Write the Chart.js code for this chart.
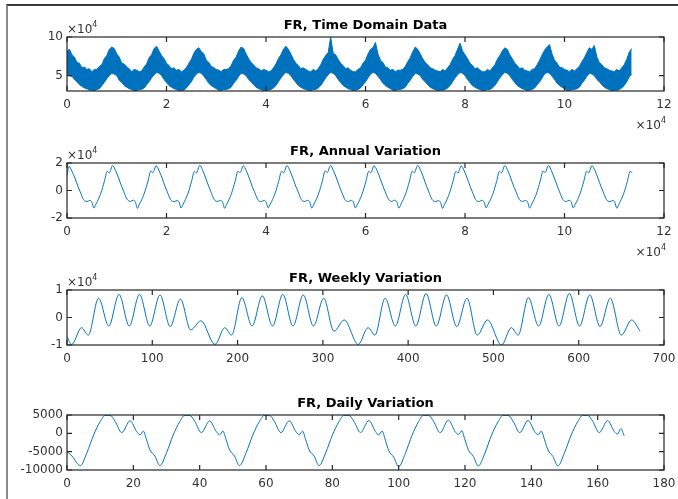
<!DOCTYPE html>
<html>
<head>
<meta charset="utf-8">
<script src="https://cdn.jsdelivr.net/npm/chart.js@4.4.0/dist/chart.umd.min.js"></script>
<style>
  body { margin: 0; background: #fff; }
  #fig { position: relative; width: 678px; height: 499px; overflow: hidden; background: #fff; }
  #fig canvas { position: absolute; left: 0; top: 0; }
  #frame { position: absolute; left: 6px; top: 4px; right: -2px; bottom: -2px; border-left: 2px solid #8a8a8a; border-top: 2px solid #3a3a3a; }
</style>
</head>
<body>
<div id="fig">
  <div id="frame"></div>
  <canvas id="td" width="678" height="499"></canvas>
  <canvas id="annual" width="678" height="499"></canvas>
  <canvas id="weekly" width="678" height="499"></canvas>
  <canvas id="daily" width="678" height="499"></canvas>
</div>
<script>
// raw hourly load, drawn as a band between upper and lower envelope
// one sample every 500 h, values in thousands
const tdUpperK = [
  82,84,77,74,67,66,60,61,58,59,55,58,58,62,64,72,76,84,87,85,
  78,74,66,65,61,59,55,58,57,55,56,61,65,73,77,85,88,82,76,72,
  66,63,59,60,57,58,55,57,60,66,71,79,84,86,81,78,70,67,62,60,
  58,57,55,58,58,59,63,70,74,82,87,85,78,72,67,64,60,59,56,58,
  57,55,56,60,65,72,77,84,88,84,78,71,66,63,59,60,58,56,55,58,
  56,59,64,71,76,80,100,79,77,71,66,63,59,60,57,55,55,58,60,66,
  70,78,84,86,93,78,70,67,61,60,57,58,55,57,57,58,62,68,73,81,
  87,84,78,72,67,64,60,59,57,56,55,58,56,60,64,71,76,84,92,82,
  77,72,66,63,59,60,57,55,55,58,56,60,64,71,76,82,86,84,77,72,
  66,63,59,60,57,56,55,58,59,64,70,77,83,87,90,78,70,66,61,60,
  58,57,55,58,56,59,62,68,73,80,86,84,89,74,67,64,60,59,57,56,
  55,58,56,60,64,71,80,85];
const tdLowerK = [
  52,50,49,45,42,38,36,34,33,31,31,30,32,33,37,41,46,50,53,52,
  50,44,41,37,35,33,32,30,30,32,32,34,38,42,47,51,54,53,50,45,
  41,37,35,33,32,30,31,31,34,38,42,48,52,54,53,49,45,40,37,35,
  33,31,30,32,32,33,35,40,44,49,53,52,50,45,42,38,35,33,32,30,
  31,31,32,34,37,42,47,51,54,53,50,45,41,37,35,33,32,31,30,32,
  32,34,37,42,47,51,54,53,50,45,41,37,35,33,32,30,31,32,34,38,
  42,47,52,54,53,49,45,40,37,35,33,31,30,32,32,33,35,40,44,49,
  53,52,50,45,42,38,35,33,32,30,31,31,32,34,37,42,47,51,54,53,
  50,45,41,37,35,33,32,30,30,32,32,34,37,42,47,51,54,53,50,45,
  41,37,35,33,32,30,31,32,34,38,42,47,52,54,53,49,45,40,37,35,
  33,31,30,32,32,33,35,40,44,49,53,52,50,45,42,38,35,33,32,30,
  31,31,32,34,37,42,48,52];
const tdHours = tdUpperK.map((_, i) => i * 500);
const tdUpper = tdUpperK.map((v) => v * 1000);
const tdLower = tdLowerK.map((v) => v * 1000);

// annual component
const annualHours = [0,
  400,1000,1600,2200,2600,3300,4000,4600,5000,5400,5800,6100,6800,7500,8100,8500,
  9160,9760,10360,10960,11360,12060,12760,13360,13760,14160,14560,14860,15560,16260,16860,17260,
  17920,18520,19120,19720,20120,20820,21520,22120,22520,22920,23320,23620,24320,25020,25620,26020,
  26680,27280,27880,28480,28880,29580,30280,30880,31280,31680,32080,32380,33080,33780,34380,34780,
  35440,36040,36640,37240,37640,38340,39040,39640,40040,40440,40840,41140,41840,42540,43140,43540,
  44200,44800,45400,46000,46400,47100,47800,48400,48800,49200,49600,49900,50600,51300,51900,52300,
  52960,53560,54160,54760,55160,55860,56560,57160,57560,57960,58360,58660,59360,60060,60660,61060,
  61720,62320,62920,63520,63920,64620,65320,65920,66320,66720,67120,67420,68120,68820,69420,69820,
  70480,71080,71680,72280,72680,73380,74080,74680,75080,75480,75880,76180,76880,77580,78180,78580,
  79240,79840,80440,81040,81440,82140,82840,83440,83840,84240,84640,84940,85640,86340,86940,87340,
  88000,88600,89200,89800,90200,90900,91600,92200,92600,93000,93400,93700,94400,95100,95700,96100,
  96760,97360,97960,98560,98960,99660,100360,100960,101360,101760,102160,102460,103160,103860,104460,104860,
  105520,106120,106720,107320,107720,108420,109120,109720,110120,110520,110920,111220,111920,112620,113220,113600];
const annualValues = [11000,
  17600,14000,9000,3000,-500,-6500,-8000,-7200,-8500,-12800,-10000,-8000,-2000,6500,14000,12800,
  18200,14500,9200,3200,-400,-6300,-7900,-7000,-8600,-13000,-9800,-7900,-1800,6600,14200,13000,
  18000,14300,9000,2800,-600,-6600,-8100,-7300,-8400,-12700,-10100,-8000,-2100,6400,13900,12700,
  18300,14600,9100,3100,-500,-6400,-8000,-7100,-8500,-12900,-10000,-8100,-2000,6500,14100,12900,
  17900,14400,8900,2900,-500,-6500,-8100,-7200,-8600,-12600,-9900,-7900,-1900,6600,14000,12800,
  18100,14500,9000,3000,-400,-6500,-8000,-7100,-8500,-12800,-10000,-8000,-2000,6500,14200,13000,
  18200,14400,9100,3000,-600,-6600,-8000,-7200,-8400,-12700,-10100,-8100,-2100,6400,14000,12800,
  18000,14500,9000,3100,-500,-6400,-7900,-7000,-8500,-12900,-9900,-7900,-1900,6600,14100,12900,
  18300,14600,9200,3000,-500,-6500,-8100,-7300,-8600,-13000,-10000,-8000,-2000,6500,13900,12700,
  17900,14300,8900,2900,-600,-6600,-8000,-7100,-8400,-12600,-10000,-8100,-2100,6400,14000,12800,
  18100,14500,9000,3000,-400,-6400,-7900,-7200,-8500,-12800,-9900,-7900,-1900,6600,14200,13000,
  18200,14400,9100,3100,-500,-6500,-8000,-7100,-8500,-12700,-10100,-8000,-2000,6500,14000,12800,
  18000,14500,9000,3000,-500,-6500,-8100,-7200,-8600,-12900,-10000,-8000,-2000,6500,14100,12600];

// weekly component, turning points over four weeks
const weeklyHours = [0,5.5,17,25,37,49,61,73,85,97,109,121,133,145,157,
  173.5,185,193,205,217,229,241,253,265,277,289,301,313,325,
  341.5,353,361,373,385,397,409,421,433,445,457,469,481,493,
  509.5,521,529,541,553,565,577,589,601,613,625,637,650,662,672];
const weeklyValues = [-7000,-9800,-3700,-6400,7000,-3100,8400,-3100,8400,-3100,8200,-3300,6700,-4500,-1200,
  -9800,-3700,-6400,7200,-3100,7900,-3100,8400,-3100,8200,-3100,7000,-5000,-900,
  -9800,-3700,-6400,7000,-3100,8400,-3100,8700,-3100,8200,-3300,7000,-6400,-900,
  -10000,-3700,-6400,7200,-3100,8400,-3100,8700,-3100,8200,-3300,7000,-6400,-900,-5000];

// daily component, turning points over one week
const dailyHours = [0,1.5,4,6,8,10,11.5,13,14.5,16.5,19,21,22,23,
  24,25,26.5,28,30,32,34,35.5,37,38.5,40.5,43,45,46,47,
  48,49,50.5,52,54,56,58,59.5,61,62.5,64.5,67,69,70,71,
  72,73,74.5,76,78,80,82,83.5,85,86.5,88.5,91,93,94,95,
  96,97,98.5,100,102,104,106,107.5,109,110.5,112.5,115,117,118,119,
  120,121,122.5,124,126,128,130,131.5,133,134.5,136.5,139,141,142,143,
  144,145,146.5,148,150,152,154,155.5,157,158.5,160.5,163,165,166,167,168];
const dailyValues = [-5000,-6200,-8800,-5300,-500,3200,4900,4900,3300,200,3400,500,-400,600,
  -1800,-4500,-6200,-8800,-5300,-500,3200,4900,4900,3300,200,3400,500,-400,600,
  -1800,-4500,-6200,-8800,-5300,-500,3200,4900,4900,3300,200,3400,500,-400,600,
  -1800,-4500,-6200,-8800,-5300,-500,3200,4900,4900,3300,200,3500,500,-400,600,
  -1900,-4700,-6500,-9100,-5500,-600,3200,4900,4900,3300,200,3600,500,-300,700,
  -1800,-4500,-6300,-8900,-5400,-500,3200,4900,4900,3300,200,3500,500,-400,600,
  -1800,-4500,-6300,-8900,-5300,-500,3200,4900,4900,3300,200,3500,500,-200,1300,-700];

// axis ticks
const longXTicks = [0, 20000, 40000, 60000, 80000, 100000, 120000];
const tdYTicks = [50000, 100000];
const annualYTicks = [-20000, 0, 20000];
const weeklyXTicks = [0, 100, 200, 300, 400, 500, 600, 700];
const weeklyYTicks = [-10000, 0, 10000];
const dailyXTicks = [0, 20, 40, 60, 80, 100, 120, 140, 160, 180];
const dailyYTicks = [-10000, -5000, 0, 5000];

const titles = ["FR, Time Domain Data", "FR, Annual Variation", "FR, Weekly Variation", "FR, Daily Variation"];

const BLUE = "#0072BD";
const AXIS = "#262626";
const LABEL = "#333333";
const FONT = "DejaVu Sans";
const Y_W = 60; // room for y tick labels
const X_H = 25; // room for x tick labels
const TICK = 5;

function toPoints(xs, ys) {
  return xs.map((x, i) => ({ x: x, y: ys[i] }));
}

// "×10^4" multiplier text
function drawExp(ctx, x, y, align) {
  ctx.font = "12px " + FONT;
  const w1 = ctx.measureText("\u00d710").width;
  ctx.font = "8px " + FONT;
  const w2 = ctx.measureText("4").width;
  const x0 = align === "right" ? x - w1 - w2 : x;
  ctx.textAlign = "left";
  ctx.textBaseline = "alphabetic";
  ctx.fillStyle = LABEL;
  ctx.font = "12px " + FONT;
  ctx.fillText("\u00d710", x0, y);
  ctx.font = "8px " + FONT;
  ctx.fillText("4", x0 + w1, y - 6);
}

// box around the axes, inward ticks on all four sides, title and multipliers
const boxPlugin = {
  id: "axesBox",
  afterDraw(chart, args, opts) {
    const ctx = chart.ctx;
    const a = chart.chartArea;
    const sx = chart.scales.x;
    const sy = chart.scales.y;
    ctx.save();
    ctx.strokeStyle = AXIS;
    ctx.lineWidth = 1.2;
    ctx.strokeRect(a.left, a.top, a.right - a.left, a.bottom - a.top);
    ctx.beginPath();
    sx.ticks.forEach((t) => {
      const px = sx.getPixelForValue(t.value);
      ctx.moveTo(px, a.bottom);
      ctx.lineTo(px, a.bottom - TICK);
      ctx.moveTo(px, a.top);
      ctx.lineTo(px, a.top + TICK);
    });
    sy.ticks.forEach((t) => {
      const py = sy.getPixelForValue(t.value);
      ctx.moveTo(a.left, py);
      ctx.lineTo(a.left + TICK, py);
      ctx.moveTo(a.right, py);
      ctx.lineTo(a.right - TICK, py);
    });
    ctx.stroke();

    ctx.fillStyle = "#000";
    ctx.font = "bold 13px " + FONT;
    ctx.textAlign = "center";
    ctx.textBaseline = "alphabetic";
    ctx.fillText(opts.title, (a.left + a.right) / 2, a.top - 8);

    if (opts.yExp) drawExp(ctx, a.left, a.top - 4, "left");
    if (opts.xExp) drawExp(ctx, a.right + 2, a.bottom + 38, "right");
    ctx.restore();
  },
};

function subplot(id, o) {
  return new Chart(document.getElementById(id), {
    type: "line",
    data: { datasets: o.datasets },
    options: {
      responsive: false,
      animation: false,
      events: [],
      layout: {
        padding: { left: 67 - Y_W, right: 678 - 664, top: o.top, bottom: 499 - o.bottom - X_H },
      },
      elements: { point: { radius: 0 }, line: { borderWidth: 1 } },
      plugins: {
        legend: { display: false },
        tooltip: { enabled: false },
        axesBox: { title: o.title, xExp: o.xExp, yExp: o.yExp },
      },
      scales: {
        x: {
          type: "linear",
          min: o.xTicks[0],
          max: o.xTicks[o.xTicks.length - 1],
          grid: { display: false, drawTicks: false },
          border: { display: false },
          afterBuildTicks: (s) => { s.ticks = o.xTicks.map((v) => ({ value: v })); },
          afterFit: (s) => { s.height = X_H; s.paddingLeft = 0; s.paddingRight = 0; },
          ticks: {
            font: { family: FONT, size: 12 },
            color: LABEL,
            padding: 7,
            maxRotation: 0,
            autoSkip: false,
            callback: (v) => String(v / o.xDiv),
          },
        },
        y: {
          min: o.yMin,
          max: o.yMax,
          grid: { display: false, drawTicks: false },
          border: { display: false },
          afterBuildTicks: (s) => { s.ticks = o.yTicks.map((v) => ({ value: v })); },
          afterFit: (s) => { s.width = Y_W; s.paddingTop = 0; s.paddingBottom = 0; },
          ticks: {
            font: { family: FONT, size: 12 },
            color: LABEL,
            padding: 4,
            autoSkip: false,
            callback: (v) => String(v / o.yDiv),
          },
        },
      },
    },
    plugins: [boxPlugin],
  });
}

subplot("td", {
  title: titles[0], top: 37, bottom: 91, xExp: true, yExp: true,
  xTicks: longXTicks, xDiv: 10000, yTicks: tdYTicks, yDiv: 10000, yMin: 30000, yMax: 100000,
  datasets: [
    { data: toPoints(tdHours, tdUpper), borderColor: BLUE, backgroundColor: BLUE, fill: "+1", borderWidth: 1 },
    { data: toPoints(tdHours, tdLower), borderColor: BLUE, fill: false, borderWidth: 1 },
  ],
});

subplot("annual", {
  title: titles[1], top: 163, bottom: 218, xExp: true, yExp: true,
  xTicks: longXTicks, xDiv: 10000, yTicks: annualYTicks, yDiv: 10000, yMin: -20000, yMax: 20000,
  datasets: [
    { data: toPoints(annualHours, annualValues), borderColor: BLUE, fill: false, cubicInterpolationMode: "monotone" },
  ],
});

subplot("weekly", {
  title: titles[2], top: 290, bottom: 345, xExp: false, yExp: true,
  xTicks: weeklyXTicks, xDiv: 1, yTicks: weeklyYTicks, yDiv: 10000, yMin: -10000, yMax: 10000,
  datasets: [
    { data: toPoints(weeklyHours, weeklyValues), borderColor: BLUE, fill: false, cubicInterpolationMode: "monotone" },
  ],
});

subplot("daily", {
  title: titles[3], top: 415, bottom: 470, xExp: false, yExp: false,
  xTicks: dailyXTicks, xDiv: 1, yTicks: dailyYTicks, yDiv: 1, yMin: -10000, yMax: 5000,
  datasets: [
    { data: toPoints(dailyHours, dailyValues), borderColor: BLUE, fill: false, cubicInterpolationMode: "monotone" },
  ],
});
</script>
</body>
</html>
